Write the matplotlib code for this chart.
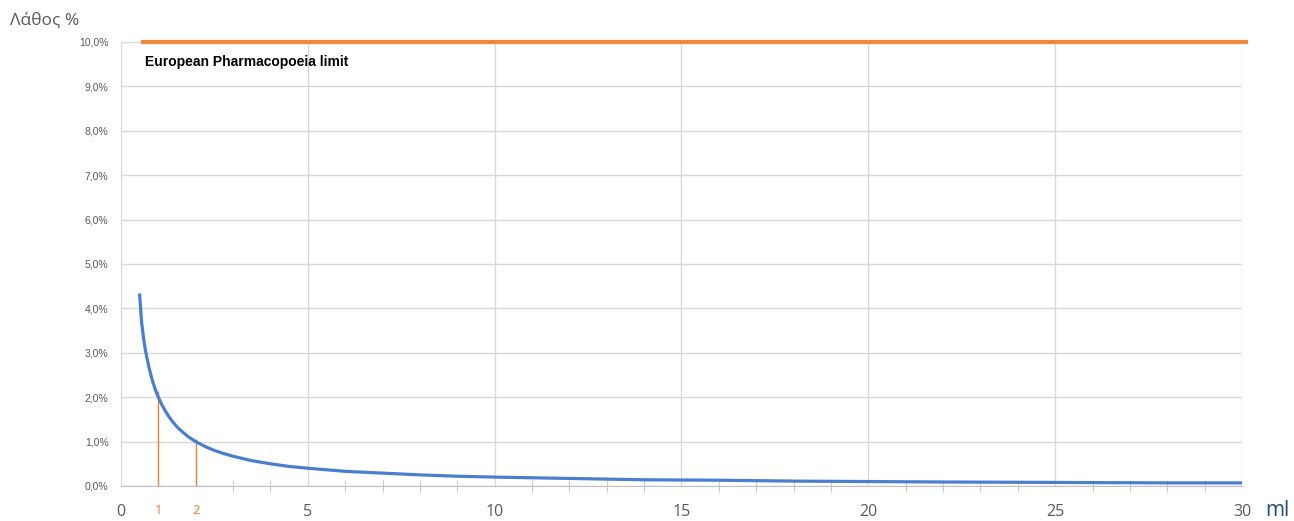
import matplotlib.pyplot as plt
from matplotlib.ticker import FuncFormatter, MultipleLocator

# volume (ml) and relative error (%)
volume = [0.5, 0.55, 0.6, 0.65, 0.7, 0.75, 0.8, 0.85, 0.9, 0.95, 1.0, 1.1, 1.2, 1.3, 1.4,
          1.5, 1.6, 1.8, 2.0, 2.25, 2.5, 2.75, 3.0, 3.5, 4.0, 4.5,
          5.0, 6.0, 7.0, 8.0, 9.0, 10.0, 12.0, 14.0, 16.0, 18.0, 20.0, 22.0, 25.0, 28.0, 30.0]
error = [4.3, 3.7, 3.35, 3.08, 2.86, 2.67, 2.5, 2.35, 2.22, 2.1, 2.0, 1.82, 1.67, 1.54, 1.43,
         1.33, 1.25, 1.11, 1.0, 0.89, 0.8, 0.73, 0.67, 0.57, 0.5, 0.44,
         0.4, 0.33, 0.29, 0.25, 0.22, 0.2, 0.17, 0.14, 0.13, 0.11, 0.1, 0.09, 0.08, 0.07, 0.07]

limit = 10.0
limit_x = [0.6, 30.1]
marked_ml = [1, 2]
marked_top = [2.15, 1.05]

xticks = [0, 1, 2, 5, 10, 15, 20, 25, 30]
grey = '#595959'
orange = '#ED7D31'

plt.rcParams['font.family'] = ['Liberation Sans', 'DejaVu Sans']

fig = plt.figure(figsize=(12.94, 5.21), dpi=100)
ax = fig.add_axes([0.0935, 0.0672, 0.8663, 0.8522])

ax.plot(volume, error, color='#4A7FD0', linewidth=2.3, zorder=3)
ax.plot(limit_x, [limit, limit], color='#F0883A', linewidth=3, clip_on=False, zorder=4)
ax.vlines(marked_ml, 0, marked_top, colors=orange, linewidth=1, zorder=2)

ax.set_xlim(0, 30)
ax.set_ylim(0, 10)
ax.yaxis.set_major_locator(MultipleLocator(1))
ax.yaxis.set_major_formatter(FuncFormatter(lambda v, p: ('%.1f%%' % v).replace('.', ',')))
ax.set_xticks(xticks)
ax.set_xticks(range(0, 31), minor=True)

ax.grid(axis='y', color='#D9D9D9', linewidth=1)
for xv in range(0, 31, 5):
    ax.axvline(xv, color='#D9D9D9', linewidth=1, zorder=0)
ax.set_axisbelow(True)

for s in ['top', 'right']:
    ax.spines[s].set_visible(False)
ax.spines['left'].set_color('#D9D9D9')
ax.spines['bottom'].set_color('#BFBFBF')

ax.tick_params(axis='y', length=0, labelsize=7.5, labelcolor=grey, pad=9)
ax.tick_params(axis='x', which='major', length=0, labelsize=11.5, labelcolor=grey, pad=13)
ax.tick_params(axis='x', which='minor', length=9, color='#BFBFBF', direction='inout')
for lbl in ax.get_xticklabels():
    lbl.set_family('Open Sans')
    if lbl.get_text() in ('1', '2'):
        lbl.set_color(orange)
        lbl.set_fontsize(9.5)

ax.text(1.021, -0.056, 'ml', color='#1F4E79', fontsize=15, family='Open Sans',
        ha='left', va='center', transform=ax.transAxes)
fig.text(0.008, 0.945, 'Λάθος %', color=grey, fontsize=12.5, family='Open Sans',
         ha='left', va='bottom')
ax.text(0.65, 9.4, 'European Pharmacopoeia limit', fontsize=10, fontweight='bold',
        color='black', ha='left', va='bottom')

plt.savefig('out.png', dpi=100)
